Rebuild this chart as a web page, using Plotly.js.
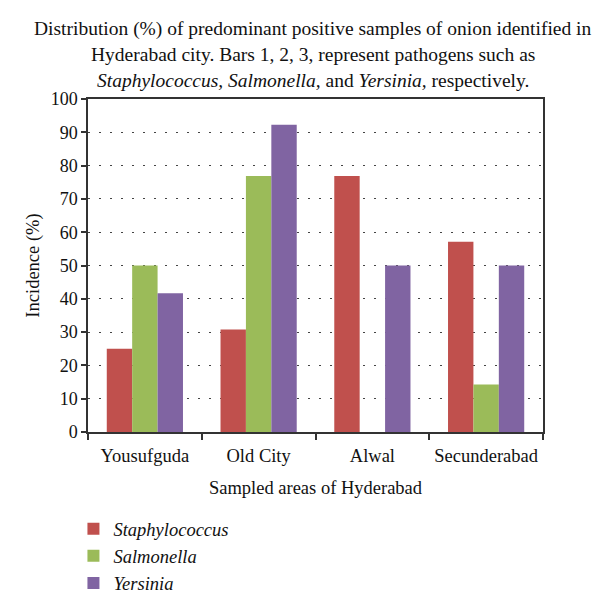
<!DOCTYPE html>
<html>
<head>
<meta charset="utf-8">
<script src="https://cdn.plot.ly/plotly-3.0.1.min.js"></script>
<style>
  body { margin: 0; background: #fff; }
  #chart { width: 600px; height: 614px; }
</style>
</head>
<body>
<div id="chart"></div>
<script>
// sampled areas and incidence (%) per pathogen
var areas = ["Yousufguda", "Old City", "Alwal", "Secunderabad"];
var staphylococcus = [25, 30.8, 76.9, 57.1];
var salmonella = [50, 76.9, 0, 14.3];
var yersinia = [41.7, 92.3, 50, 50];

var serif = "Liberation Serif, Times New Roman, serif";

var traces = [
  {x: areas, y: staphylococcus, name: "<i>Staphylococcus</i>", type: "bar", marker: {color: "#C0504D"}},
  {x: areas, y: salmonella, name: "<i>Salmonella</i>", type: "bar", marker: {color: "#9BBB59"}},
  {x: areas, y: yersinia, name: "<i>Yersinia</i>", type: "bar", marker: {color: "#8064A2"}}
];

var titleLines = [
  "Distribution (%) of predominant positive samples of onion identified in",
  "Hyderabad city. Bars 1, 2, 3, represent pathogens such as",
  "<i>Staphylococcus, Salmonella,</i> and <i>Yersinia,</i> respectively."
];
var titleY = [28, 54, 80];

var layout = {
  width: 600,
  height: 614,
  margin: {l: 88, r: 57, t: 99, b: 176},
  paper_bgcolor: "#fff",
  plot_bgcolor: "#fff",
  font: {family: serif, size: 18, color: "#111"},
  barmode: "group",
  bargap: 0.33,
  bargroupgap: 0,
  showlegend: true,
  legend: {
    x: -0.032, xanchor: "left",
    y: -0.235, yanchor: "top",
    font: {family: serif, size: 18.5, color: "#111"},
    tracegroupgap: 0,
    itemwidth: 30
  },
  xaxis: {
    showline: true, linecolor: "#333", linewidth: 1.5, mirror: true,
    ticks: "outside", ticklen: 6, tickcolor: "#333", tickwidth: 1.5,
    tickson: "boundaries",
    tickangle: 0,
    ticklabelstandoff: 6,
    title: {text: "Sampled areas of Hyderabad", standoff: 16, font: {size: 18.5}},
    tickfont: {size: 18.5}
  },
  yaxis: {
    range: [0, 100],
    dtick: 10,
    showline: true, linecolor: "#333", linewidth: 1.5, mirror: true,
    ticks: "outside", ticklen: 5, tickcolor: "#333", tickwidth: 1.5,
    showgrid: true, gridcolor: "#444", gridwidth: 1.3, griddash: "1.5px,9.5px",
    zeroline: false,
    title: {text: "Incidence (%)", standoff: 6, font: {size: 18.5}},
    tickfont: {size: 18}
  },
  annotations: titleLines.map(function(line, i) {
    return {
      text: line, xref: "paper", yref: "paper",
      x: 0.5 - 3 / 455, y: 1 + (99 - titleY[i]) / 339,
      xanchor: "center", yanchor: "middle",
      showarrow: false, font: {size: 19.5, family: serif, color: "#111"}
    };
  })
};

Plotly.newPlot("chart", traces, layout, {displayModeBar: false});
</script>
</body>
</html>
